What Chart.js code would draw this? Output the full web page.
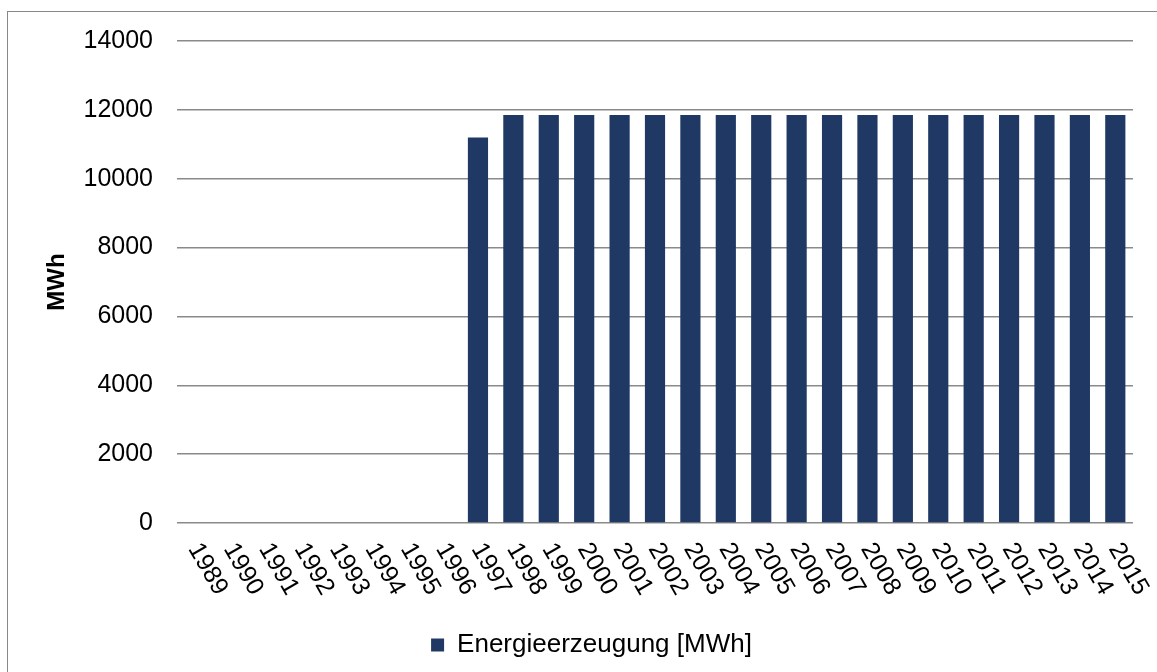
<!DOCTYPE html>
<html>
<head>
<meta charset="utf-8">
<script src="https://cdn.jsdelivr.net/npm/chart.js@4/dist/chart.umd.min.js"></script>
<style>
  html, body { margin: 0; padding: 0; background: #fff; overflow: hidden; }
  #frame {
    position: absolute; left: 7px; top: 11px; width: 1200px; height: 720px;
    border: 1.5px solid #888;
  }
  #wrap { position: absolute; left: 0; top: 0; width: 1157px; height: 672px; }
</style>
</head>
<body>
<div id="frame"></div>
<div id="wrap"><canvas id="chart"></canvas></div>
<script>
// Chart data
const years = ['1989', '1990', '1991', '1992', '1993', '1994', '1995', '1996', '1997', '1998',
  '1999', '2000', '2001', '2002', '2003', '2004', '2005', '2006', '2007', '2008',
  '2009', '2010', '2011', '2012', '2013', '2014', '2015'];
const production = [0, 0, 0, 0, 0, 0, 0, 0, 11200, 11850,
  11850, 11850, 11850, 11850, 11850, 11850, 11850, 11850, 11850, 11850,
  11850, 11850, 11850, 11850, 11850, 11850, 11850];
const seriesName = 'Energieerzeugung [MWh]';
const yTitle = 'MWh';

const FONT = "'Liberation Sans', Arial, sans-serif";
const BAR_COLOR = '#1f3864';
const GRID_COLOR = '#8a8a8a';

// x labels rotated clockwise (Chart.js only rotates the other way)
const slantedLabels = {
  id: 'slantedLabels',
  afterDraw(chart) {
    const x = chart.scales.x;
    const ctx = chart.ctx;
    ctx.save();
    ctx.font = '25px ' + FONT;
    ctx.fillStyle = '#000';
    ctx.textAlign = 'left';
    ctx.textBaseline = 'middle';
    years.forEach((label, i) => {
      ctx.save();
      ctx.translate(x.getPixelForTick(i) - 1, x.top + 22);
      ctx.rotate(Math.PI / 3);
      ctx.fillText(label, 0, 0);
      ctx.restore();
    });
    ctx.restore();
  }
};

new Chart(document.getElementById('chart'), {
  type: 'bar',
  data: {
    labels: years,
    datasets: [{
      label: seriesName,
      data: production,
      backgroundColor: BAR_COLOR,
      borderWidth: 0,
      barPercentage: 0.57,
      categoryPercentage: 1
    }]
  },
  options: {
    responsive: true,
    maintainAspectRatio: false,
    animation: false,
    layout: { padding: { left: 26, right: 0, top: 41, bottom: 4 } },
    plugins: {
      tooltip: { enabled: false },
      legend: {
        position: 'bottom',
        labels: {
          color: '#000',
          font: { family: FONT, size: 26 },
          boxWidth: 13,
          boxHeight: 13,
          padding: 10
        }
      }
    },
    scales: {
      x: {
        ticks: { display: false },
        grid: { display: false },
        border: { display: false },
        afterFit(scale) { scale.height = 99; }
      },
      y: {
        min: 0,
        max: 14000,
        ticks: {
          stepSize: 2000,
          color: '#000',
          padding: 24,
          font: { family: FONT, size: 25 },
          callback: v => String(v)
        },
        grid: { color: GRID_COLOR, lineWidth: 1.5, drawTicks: false },
        border: { display: false },
        title: {
          display: true,
          text: yTitle,
          color: '#000',
          padding: { top: 17, bottom: 0 },
          font: { family: FONT, size: 24, weight: 'bold' }
        },
        afterFit(scale) { scale.width = 151; }
      },
      // empty right margin so the legend centres like the original
      yRight: {
        position: 'right',
        ticks: { display: false },
        grid: { display: false },
        border: { display: false },
        afterFit(scale) { scale.width = 24; }
      }
    }
  },
  plugins: [slantedLabels]
});
</script>
</body>
</html>
